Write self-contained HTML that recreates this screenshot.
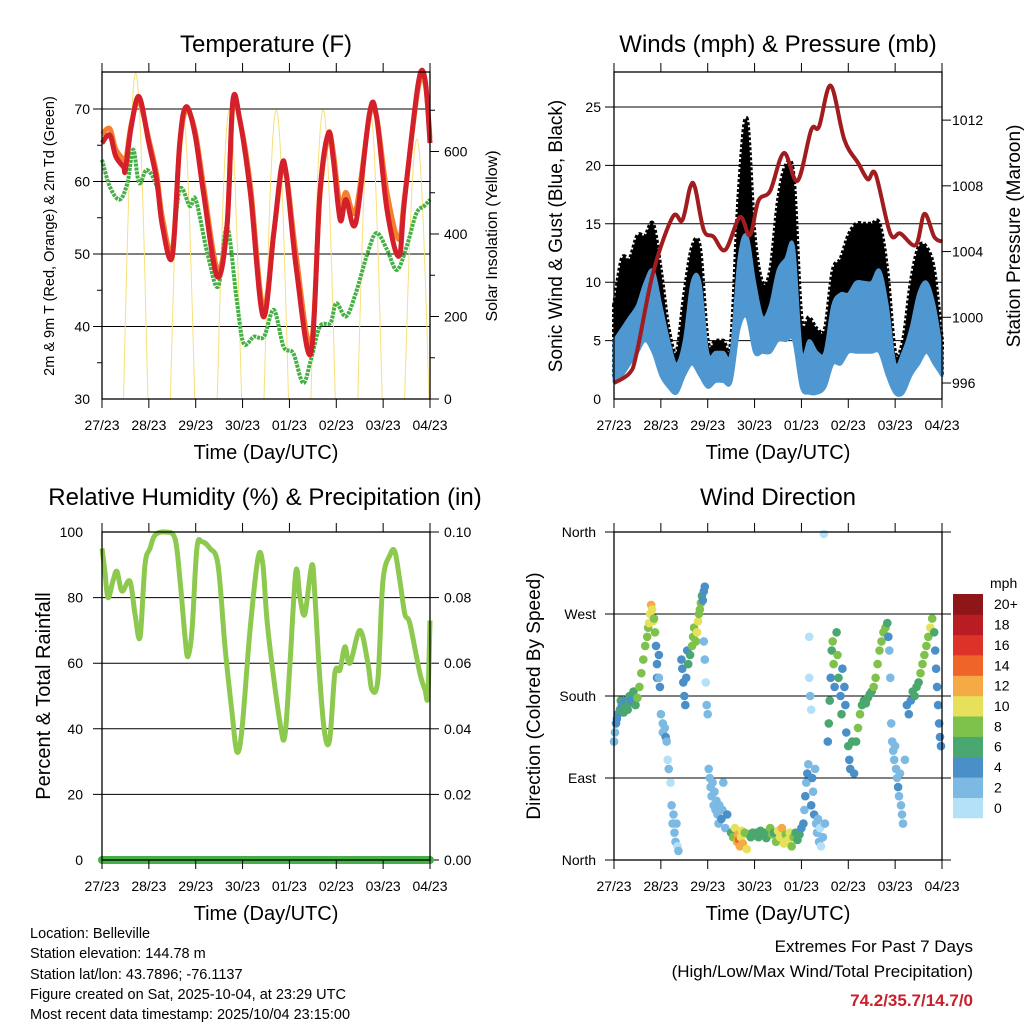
<!DOCTYPE html>
<html><head><meta charset="utf-8"><style>
html,body{margin:0;padding:0;background:#fff;}
svg{display:block;font-family:"Liberation Sans",sans-serif;}
</style></head><body>
<svg id="chart" xmlns="http://www.w3.org/2000/svg" width="1024" height="1024" viewBox="0 0 1024 1024">
<rect width="1024" height="1024" fill="#fff"/>
<g id="g1"></g>
<g id="g2"></g>
<g id="g3"></g>
<g id="g4"></g>
<g id="g5">
<text x="30" y="938" font-size="14.5">Location: Belleville</text>
<text x="30" y="958" font-size="14.5">Station elevation: 144.78 m</text>
<text x="30" y="979" font-size="14.5">Station lat/lon: 43.7896; -76.1137</text>
<text x="30" y="999" font-size="14.5">Figure created on Sat, 2025-10-04, at 23:29 UTC</text>
<text x="30" y="1019" font-size="14.5">Most recent data timestamp: 2025/10/04 23:15:00</text>
<text x="973" y="952" font-size="17" text-anchor="end">Extremes For Past 7 Days</text>
<text x="973" y="977" font-size="17" text-anchor="end">(High/Low/Max Wind/Total Precipitation)</text>
<text x="973" y="1006" font-size="17" font-weight="bold" fill="#c8202a" text-anchor="end">74.2/35.7/14.7/0</text>
</g>
</svg>
<script>
// ---------- data ----------
const dayLabels = ["27/23","28/23","29/23","30/23","01/23","02/23","03/23","04/23"];
const tempHours = [0,4,7,11,12,15,19,24,28,31,36,39.8,43,47.5,52,59,64,67,70.6,76,82.5,88,92,94.5,99.6,107,111.6,116,118.5,122,125,130,137,140.6,146,152,155,162,165.5,168];
const redTemps = [65.3,66.4,63.5,62,61.6,67.6,71.7,65.3,60.2,53.8,49.7,65.3,70.3,66.7,58.4,46.9,53.8,71.1,68.5,58.4,41.4,52.9,62.1,60.7,47.8,36.3,58.4,66.7,63,54.7,57.5,54.3,69.4,69,56.1,49.7,57.5,73.6,74,65.3];
const orangeTemps = [66.5,67.3,64.5,63,62.5,68,71,65.8,61,55,50.5,64.8,69.8,67.2,59.5,48,54,70.5,68.5,59.5,42.5,53,61.5,61,49.5,37.5,58,66.2,64,56.5,58.5,56,69,69,58.5,52,58,73,73.5,66];
const dewHours = [0,4,9,13,16,19,23,28,31,35.5,39.8,45,48,54,59.5,64,69,72.5,77.9,83,88,93,98,103,107,111.6,117,120,125,130,136,140.6,146,151,156,161,165,168];
const dewTemps = [63,59.3,57.5,59.8,64.4,59.8,61.6,59.3,54.3,50.1,58.9,56.6,57.5,50.1,45.5,53.8,43.7,37.7,38.6,38.6,42.3,37.2,36.3,32.2,35.4,40,40.5,43.2,41.4,44.6,50.1,52.9,50.6,47.8,51,55.6,56.6,57.5];
const solarPeaks = [790,700,700,700,700,700,630];
const tempTicks = [30,40,50,60,70];
const solarTicks = [0,200,400,600];

const windHours = [0,4,8,12,16,20,24,28,32,36,40,44,48,52,56,60,64,68,72,76,80,84,88,92,96,100,104,108,112,116,120,124,128,132,136,140,144,148,152,156,160,164,168];
const gustHi = [8,12,12,14,14,15,11,6,4,9,13,13,5,5,5,5,18,24,14,10,11,17,20,19,7,7,6,6,11,12,14,15,15,15,15,11,4,5,10,13,13,11,5];
const gustLo = [2,4,5,6,6,6,3,2,1,3,5,3,2,2,2,2,8,9,6,5,5,7,8,7,2,1,1,2,4,5,5,6,6,6,6,4,1,1,3,5,5,4,2];
const windHi = [5,6,7,8,10,11,8,5,3,5,10,10,4,4,4,4,12,14,10,7,8,11,12,13,4,5,4,4,8,9,9,10,10,10,11,8,3,4,6,9,10,8,4];
const windLo = [1.5,2,3,4,5,4,2,1,0.5,2,3,2,1,1.5,1.5,1.5,6,7,4,4,4,5,5,5,1,0.5,0.5,1,3,3,4,4,4,4,4,2,0.5,0.5,2,3,4,3,2];
const presHours = [0,8,11.6,20,30,35,39,41.5,46,51,57,64.5,69.6,74,80,87,94,101,105,111,118,125,130,134,141.5,146.7,154.6,159,164,168];
const presValues = [996,996.6,997.8,1002.7,1006.1,1005.9,1007.9,1007.9,1005.3,1004.9,1004.1,1006.1,1005,1007.1,1007.7,1010,1008.3,1011.4,1011.6,1014.1,1010.8,1009.4,1008.4,1008.7,1005.1,1005.1,1004.4,1006.3,1004.9,1004.6];
const windTicks = [0,5,10,15,20,25];
const presTicks = [996,1000,1004,1008,1012];

const rhHours = [0,1.5,3.1,5.6,7.7,10.2,14.3,16.9,19.5,22,24.6,27.1,32.3,37.4,40,42.5,44,46.1,48.6,51.2,55.3,59.4,63,66.6,69.1,71.7,75.8,79.9,82.4,85,91.1,93.7,96.3,99.3,101.4,103.9,107.5,109.1,111.6,114.2,116.7,119.3,121.9,124.4,127,132.1,136.2,138.2,141.3,143.9,147.5,150,152.6,155.1,157.7,162.8,165.4,166.9,168];
const rhValues = [95,88,80,85,88,82,85,75,68,90,95,99,100,98,85,68,62,70,95,97,95,90,65,45,33,40,70,92,90,70,42,38,60,88,80,75,90,80,55,38,37,57,58,65,60,70,60,52,55,85,93,94,85,75,72,57,52,50,73];
const precipHours = [0,168];
const precipValues = [0,0];
const rhTicks = [0,20,40,60,80,100];
const precipTicks = ["0.00","0.02","0.04","0.06","0.08","0.10"];

const dirHours = [0,0.5,1,1.5,2,3,3.5,4,5,5.5,6,7,7.5,8,9,10,11,12,13,14,15,16,17,17.5,18,18.5,19,19.5,20,20.5,21,
 21.5,22,22,23,23,23.5,24,25,25,26,26.5,27,27.5,28,29,29.5,30,30.5,31,31.5,32,32.5,33,
 34.5,35,35.5,36,36.5,37,37.5,38,39,40,40.5,41,42,42.5,43,43.5,44,44.5,45,45.5,46,46.5,
 46,46.5,47,47.5,48,48.5,49,49.5,50,50.5,51,51.5,52,52.5,53,53.5,54,55,55.5,56,57,58,
 60,61,62,63,63.5,64,64.5,65,65.5,66,67,68,69,70,71,72,73,74,75,76,77,78,79,80,81,82,83,84,85,86,87,88,89,90,91,92,93,94,95,96,
 97,97.5,98,98.5,99,99.5,100,100,100.5,101,101,101.5,102,102.5,103,103.5,104,104.5,105,105.5,106,107,107.5,108,
 109.5,110,110.5,111,111.5,112,112.5,113,114,114.5,115,116,116.5,117,118,118.5,119,120,120.5,121,122,123,
 124,125,126,127,128,129,130,131,132,133,134,135,136,137,138,139,140,140.5,
 141,141.5,142,142.5,143,143.5,144,144.5,145,145.5,146,146.5,147,147.5,148,149,
 150,151,152,153,154,155,156,157,158,159,160,161,162,163,164,164.5,165,165.5,166,166.5,167,167.5];
const dirDegrees = [130,140,150,155,160,165,175,170,162,170,175,165,172,180,175,185,170,178,190,205,220,235,245,255,260,270,280,275,262,265,250,
 235,215,200,225,200,190,160,150,140,145,135,130,110,100,85,60,40,50,30,20,40,15,10,
 220,210,195,180,170,200,230,215,225,235,245,255,240,250,262,270,275,282,290,285,295,300,
 240,220,195,170,160,100,90,80,70,85,60,75,55,65,50,40,60,45,55,85,35,50,
 30,25,35,20,28,22,15,25,32,18,30,12,28,25,30,27,30,25,32,28,30,24,30,35,28,30,20,32,25,35,18,28,22,30,15,25,30,22,28,35,
 40,55,70,85,95,105,245,200,180,165,60,90,75,50,100,40,30,45,20,35,15,25,358,40,
 130,150,175,200,230,240,215,190,250,225,200,180,160,210,190,170,140,125,110,100,130,95,
 130,145,160,170,175,172,178,182,185,190,200,215,230,240,250,255,260,245,
 230,200,150,130,120,110,125,100,90,80,70,95,60,50,40,110,
 170,160,175,185,180,190,195,205,215,225,235,245,255,265,250,230,210,190,170,150,135,125];
const dirSpeeds = [3,3,4,4,4,6,6,4,6,6,4,6,6,7,4,7,6,8,8,8,8,9,8,9,10,10,12,10,10,8,8,
 4,4,4,4,3,4,2,2,2,3,4,2,1,2,1,2,2,2,2,2,2,1,2,
 4,4,4,4,4,4,4,6,6,8,8,8,9,10,10,9,8,8,6,4,4,4,
 2,2,1,2,2,2,3,2,2,3,2,3,2,2,3,2,3,4,2,3,2,4,
 6,8,10,12,13,14,12,11,10,12,8,10,8,7,6,6,6,6,6,6,6,6,6,8,8,6,8,10,10,12,10,9,11,10,8,8,7,6,6,5,
 4,3,4,3,4,3,1,1,2,1,4,4,3,4,2,3,2,2,2,1,1,2,1,2,
 4,6,6,4,6,8,8,4,6,8,6,4,6,4,4,4,4,6,4,4,6,4,
 6,8,8,6,6,6,6,6,6,8,8,8,8,9,8,8,6,4,
 2,2,2,3,2,2,3,2,2,4,2,2,2,2,2,3,
 4,4,4,6,6,6,6,8,8,8,8,8,10,8,6,4,4,4,4,4,4,4];
const dirTickLabels = ["North","East","South","West","North"];
const speedLabels = ["0","2","4","6","8","10","12","14","16","18","20+"];
const speedColors = ["#b5e1f8","#7cb9e3","#4a8fc7","#4aa76f","#7fc24b","#e6e05a","#f6aa45","#ee6429","#dc3227","#ba1c24","#8e1518"];

// ---------- helpers ----------
const NS = "http://www.w3.org/2000/svg";
function el(parent, tag, attrs, text){
  const e = document.createElementNS(NS, tag);
  for (const k in attrs) e.setAttribute(k, attrs[k]);
  if (text !== undefined) e.textContent = text;
  parent.appendChild(e);
  return e;
}
function xScale(x0, x1){ return h => x0 + h/168*(x1-x0); }
function smoothSegs(pts){
  let d = "";
  for (let i=0;i<pts.length-1;i++){
    const p0 = pts[i-1]||pts[i], p1 = pts[i], p2 = pts[i+1], p3 = pts[i+2]||p2;
    const c1x = p1[0]+(p2[0]-p0[0])/6, c1y = p1[1]+(p2[1]-p0[1])/6;
    const c2x = p2[0]-(p3[0]-p1[0])/6, c2y = p2[1]-(p3[1]-p1[1])/6;
    d += "C"+c1x.toFixed(1)+","+c1y.toFixed(1)+" "+c2x.toFixed(1)+","+c2y.toFixed(1)+" "+p2[0].toFixed(1)+","+p2[1].toFixed(1);
  }
  return d;
}
function linePath(xs, ys, fx, fy){
  const pts = xs.map((h,i)=>[fx(h), fy(ys[i])]);
  return "M"+pts[0][0].toFixed(1)+","+pts[0][1].toFixed(1)+smoothSegs(pts);
}
function xAxis(g, x0, x1, y0, y1){
  const fx = xScale(x0,x1);
  dayLabels.forEach((lab,i)=>{
    const x = fx(i*24);
    const t = el(g,"line",{x1:x,x2:x,y1:y0-9,y2:y0,stroke:"#000","stroke-width":1});
    
    
    const b = el(g,"line",{x1:x,x2:x,y1:y1,y2:y1+9,stroke:"#000","stroke-width":1});
    
    
    const tx = el(g,"text",{x:x,y:y1+31,"font-size":14,"text-anchor":"middle"},lab);
    
    
  });
  const tt = el(g,"text",{x:(x0+x1)/2,y:y1+60,"font-size":20,"text-anchor":"middle"},"Time (Day/UTC)");
  
  
}
function frame(g, x0, x1, y0, y1){
  const r = el(g,"rect",{x:x0,y:y0,width:x1-x0,height:y1-y0,fill:"none",stroke:"#000","stroke-width":1.3});
  
  
}
function grid(g, x0, x1, y){
  const l = el(g,"line",{x1:x0-9,x2:x1,y1:y,y2:y,stroke:"#000","stroke-width":1});
  
  
}
function title(g, x, y, txt){
  const t = el(g,"text",{x:x,y:y,"font-size":24,"text-anchor":"middle"},txt);
  
  
}
function vtitle(g, x, y, size, txt, name){
  const t = el(g,"text",{x:x,y:y,"font-size":size,"text-anchor":"middle",transform:`rotate(-90 ${x} ${y})`},txt);
  
  
}
function ylabel(g, x, y, txt, anchor){
  const t = el(g,"text",{x:x,y:y+5,"font-size":14,"text-anchor":anchor},txt);
  
  
}
function rtick(g, x, y, len){
  const t = el(g,"line",{x1:x,x2:x+len,y1:y,y2:y,stroke:"#000","stroke-width":1});
  
  
}

// ---------- Panel 1: Temperature ----------
(function(){
  const g = document.getElementById("g1");
  const X0=102,X1=430,Y0=72,Y1=399;
  const fx = xScale(X0,X1);
  const fy = v => 399-(v-30)*7.25;
  const fs = v => 399-v*0.4125;
  title(g,266,52,"Temperature (F)");
  tempTicks.forEach(v=>{ if(v>30) grid(g,X0,X1,fy(v)); ylabel(g,90,fy(v),String(v),"end"); });
  for(let v=35; v<75; v+=10){ const t=el(g,"line",{x1:X0-5,x2:X0,y1:fy(v),y2:fy(v),stroke:"#000"});   }
  solarTicks.forEach(v=>{ rtick(g,X1,fs(v),9); ylabel(g,444,fs(v),String(v),"start"); });
  for(let v=100; v<800; v+=200){ rtick(g,X1,fs(v),5); }
  let sp = "";
  solarPeaks.forEach((pk,d)=>{
    const a = d*24+11, b = d*24+23.5;
    for(let h=a; h<=b+0.01; h+=0.25){
      const v = pk*Math.sin(Math.PI*(h-a)/(b-a));
      sp += (h===a?"M":"L")+fx(Math.min(h,168)).toFixed(1)+","+fs(Math.max(v,0)).toFixed(1);
    }
  });
  const s = el(g,"path",{d:sp,fill:"none",stroke:"#f7e07a","stroke-width":1});
  
  
  const dl = el(g,"path",{d:linePath(dewHours,dewTemps,fx,fy),fill:"none",stroke:"#45b045","stroke-width":4,"stroke-dasharray":"3 1","stroke-linejoin":"round"});
  
  
  const ol = el(g,"path",{d:linePath(tempHours,orangeTemps,fx,fy),fill:"none",stroke:"#f47f2f","stroke-width":5,"stroke-linejoin":"round"});
  
  
  const rl = el(g,"path",{d:linePath(tempHours,redTemps,fx,fy),fill:"none",stroke:"#d4202a","stroke-width":5,"stroke-linejoin":"round"});
  
  
  frame(g,X0,X1,Y0,Y1);
  xAxis(g,X0,X1,Y0,Y1);
  vtitle(g,54,236,14.5,"2m & 9m T (Red, Orange) & 2m Td (Green)","y-axis-title-left");
  vtitle(g,497,236,16,"Solar Insolation (Yellow)","y-axis-title-right");
})();

// ---------- Panel 2: Winds & Pressure ----------
(function(){
  const g = document.getElementById("g2");
  const X0=614,X1=942,Y0=72,Y1=399;
  const fx = xScale(X0,X1);
  const fy = v => 399-v*11.68;
  const fp = p => 383-(p-996)*16.43;
  title(g,778,52,"Winds (mph) & Pressure (mb)");
  windTicks.forEach(v=>{ if(v>0) grid(g,X0,X1,fy(v)); ylabel(g,601,fy(v),String(v),"end"); });
  presTicks.forEach(v=>{ rtick(g,X1,fp(v),9); ylabel(g,952,fp(v),String(v),"start"); });
  const band = (hi,lo)=>{
    const top = windHours.map((h,i)=>[fx(h),fy(hi[i])]);
    const bot = windHours.map((h,i)=>[fx(h),fy(lo[i])]).reverse();
    return "M"+top[0][0].toFixed(1)+","+top[0][1].toFixed(1)+smoothSegs(top)+"L"+bot[0][0].toFixed(1)+","+bot[0][1].toFixed(1)+smoothSegs(bot)+"Z";
  };
  const gb = el(g,"path",{d:band(gustHi,gustLo),fill:"#000",stroke:"#000","stroke-width":4,"stroke-linejoin":"round","stroke-dasharray":"3 2"});
  
  
  const wb = el(g,"path",{d:band(windHi,windLo),fill:"#4e97d1",stroke:"#4e97d1","stroke-width":3,"stroke-linejoin":"round"});
  
  
  const pl = el(g,"path",{d:linePath(presHours,presValues,fx,fp),fill:"none",stroke:"#a01c1f","stroke-width":4,"stroke-linejoin":"round"});
  
  
  frame(g,X0,X1,Y0,Y1);
  xAxis(g,X0,X1,Y0,Y1);
  vtitle(g,562,236,19,"Sonic Wind & Gust (Blue, Black)","y-axis-title-left");
  vtitle(g,1020,236,19,"Station Pressure (Maroon)","y-axis-title-right");
})();

// ---------- Panel 3: RH & Precip ----------
(function(){
  const g = document.getElementById("g3");
  const X0=102,X1=430,Y0=532,Y1=860;
  const fx = xScale(X0,X1);
  const fy = v => 860-v*3.28;
  const fpr = v => 860-v*3280;
  title(g,265,505,"Relative Humidity (%) & Precipitation (in)");
  rhTicks.forEach((v,i)=>{ if(v>0&&v<100) grid(g,X0,X1,fy(v)); ylabel(g,83,fy(v),String(v),"end"); rtick(g,X1,fy(v),9); ylabel(g,444,fy(v),precipTicks[i],"start"); });
  const rl = el(g,"path",{d:linePath(rhHours,rhValues,fx,fy),fill:"none",stroke:"#8dc94f","stroke-width":5,"stroke-linejoin":"round"});
  
  
  const pl = el(g,"path",{d:linePath(precipHours,precipValues,fx,fpr),fill:"none",stroke:"#45b045","stroke-width":8,"stroke-linecap":"round"});
  
  
  frame(g,X0,X1,Y0,Y1);
  xAxis(g,X0,X1,Y0,Y1);
  vtitle(g,50,696,20,"Percent & Total Rainfall","y-axis-title-left");
})();

// ---------- Panel 4: Wind Direction ----------
(function(){
  const g = document.getElementById("g4");
  const X0=614,X1=942,Y0=532,Y1=860;
  const fx = xScale(X0,X1);
  const fy = d => 860-d*0.911;
  const colorFor = s => speedColors[Math.min(10, Math.floor(s/2))];
  title(g,778,505,"Wind Direction");
  dirTickLabels.forEach((lab,i)=>{ const y=fy(i*90); grid(g,X0,X1+9,y); ylabel(g,596,y,lab,"end"); });
  dirHours.forEach((h,i)=>{
    const c = el(g,"circle",{cx:fx(h).toFixed(1),cy:fy(dirDegrees[i]).toFixed(1),r:4.3,fill:colorFor(dirSpeeds[i])});
    
    
  });
  frame(g,X0,X1,Y0,Y1);
  xAxis(g,X0,X1,Y0,Y1);
  vtitle(g,540,696,19,"Direction (Colored By Speed)","y-axis-title-left");
  const cb = el(g,"g",{});
  
  
  const mt = el(cb,"text",{x:990,y:588,"font-size":14},"mph");
  
  
  const bh = 224/speedLabels.length;
  speedLabels.forEach((lab,i)=>{
    const y = 818-(i+1)*bh;
    const r = el(cb,"rect",{x:953,y:y.toFixed(1),width:30,height:(bh+0.3).toFixed(1),fill:speedColors[i]});
    
    
    const t = el(cb,"text",{x:994,y:(y+bh/2+5).toFixed(1),"font-size":14},lab);
    
    
  });
})();
</script>
</body></html>
